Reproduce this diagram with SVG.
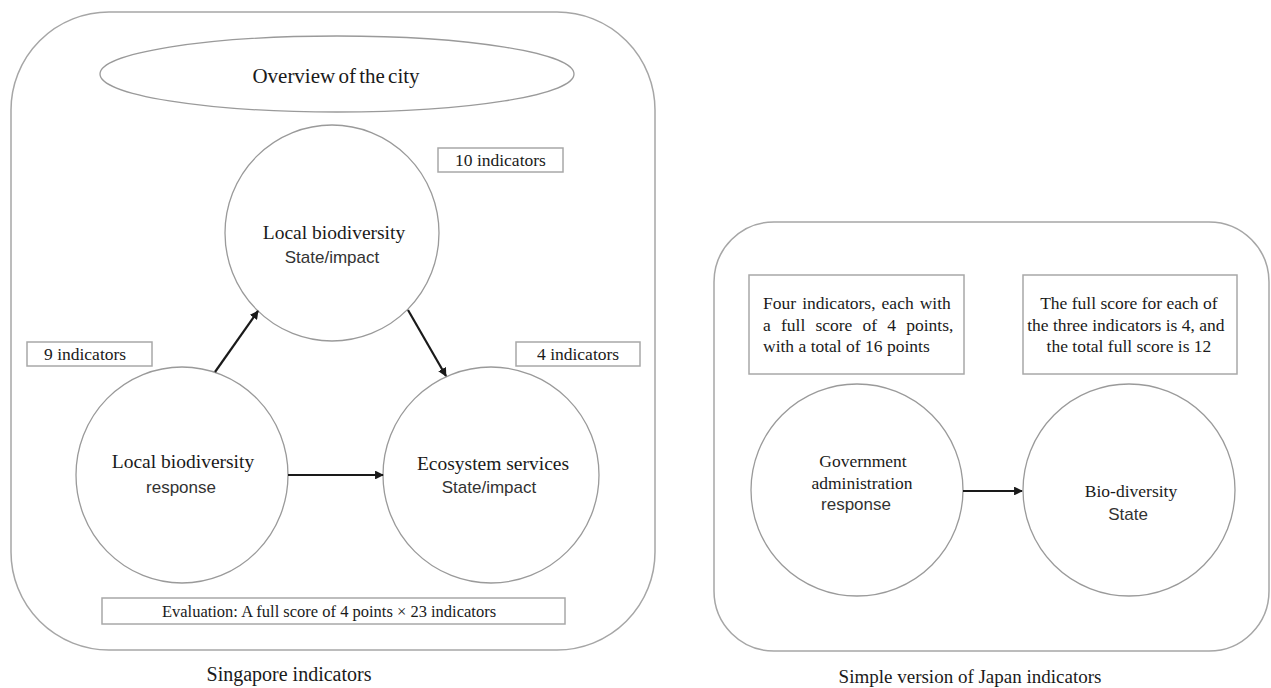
<svg xmlns="http://www.w3.org/2000/svg" width="1271" height="688" viewBox="0 0 1271 688">
<defs>
<style>
.frame{fill:#fff;stroke:#a6a6a6;stroke-width:1.5}
.node{fill:#fff;stroke:#9a9a9a;stroke-width:1.3}
.box{fill:#fff;stroke:#a8a8a8;stroke-width:1.5}
.serif{font-family:"Liberation Serif","Times New Roman",serif;fill:#1a1a1a}
.sans{font-family:"Liberation Sans",Arial,sans-serif;fill:#333}
.c{text-anchor:middle}
.edge{stroke:#1a1a1a;stroke-width:2.2;fill:none;marker-end:url(#ah)}
</style>
<marker id="ah" viewBox="0 0 10 10" refX="9" refY="5" markerWidth="4" markerHeight="4" orient="auto" markerUnits="strokeWidth">
<path d="M0,0 L10,5 L0,10 z" fill="#1a1a1a"/>
</marker>
</defs>
<rect width="1271" height="688" fill="#fff"/>

<g id="singapore-frame">
<rect class="frame" x="11" y="12" width="644" height="638" rx="98" ry="98"/>
</g>
<g id="japan-frame">
<rect class="frame" x="714" y="222" width="555" height="429" rx="60" ry="60"/>
</g>

<g id="overview">
<ellipse class="node" cx="337" cy="74" rx="237" ry="38"/>
<text class="serif c" x="336" y="83" font-size="21" word-spacing="-2">Overview of the city</text>
</g>

<g id="state-impact">
<ellipse class="node" cx="332" cy="233" rx="107" ry="108"/>
<text class="serif c" x="334" y="239" font-size="19.5">Local biodiversity</text>
<text class="sans c" x="332" y="263" font-size="17">State/impact</text>
</g>

<g id="label-10">
<rect class="box" x="438" y="148" width="125" height="24"/>
<text class="serif" x="455" y="166" font-size="17.5" font-family="Liberation Serif, serif">10 indicators</text>
</g>

<g id="label-9">
<rect class="box" x="27" y="342" width="125" height="24"/>
<text class="serif" x="44" y="360" font-size="17.5" font-family="Liberation Serif, serif">9 indicators</text>
</g>

<g id="label-4">
<rect class="box" x="516" y="342" width="124" height="24"/>
<text class="serif" x="537" y="360" font-size="17.5" font-family="Liberation Serif, serif">4 indicators</text>
</g>

<g id="response">
<ellipse class="node" cx="182" cy="475" rx="106" ry="108"/>
<text class="serif c" x="183" y="468" font-size="19.5">Local biodiversity</text>
<text class="sans c" x="181" y="493" font-size="17">response</text>
</g>

<g id="ecosystem">
<ellipse class="node" cx="491" cy="475" rx="108" ry="108"/>
<text class="serif c" x="493" y="470" font-size="19.5">Ecosystem services</text>
<text class="sans c" x="489" y="493" font-size="17">State/impact</text>
</g>

<g id="evaluation">
<rect class="box" x="102" y="598" width="463" height="26"/>
<text class="serif c" x="329" y="617" font-size="16.5">Evaluation: A full score of 4 points × 23 indicators</text>
</g>

<g id="caption-singapore">
<text class="serif c" x="289" y="681" font-size="20">Singapore indicators</text>
</g>

<g id="japan-box-1">
<rect class="box" x="749" y="275" width="215" height="99"/>
<text class="serif" font-size="17.5">
<tspan x="763" y="309" word-spacing="1.7">Four indicators, each with</tspan>
<tspan x="763" y="331" word-spacing="5.8">a full score of 4 points,</tspan>
<tspan x="763" y="352">with a total of 16 points</tspan>
</text>
</g>

<g id="japan-box-2">
<rect class="box" x="1023" y="275" width="214" height="99"/>
<text class="serif c" font-size="17.5">
<tspan x="1131" y="309">The full score for each of</tspan>
<tspan x="1128" y="331">the three indicators is 4, and</tspan>
<tspan x="1129" y="352">the total full score is 12</tspan>
</text>
</g>

<g id="government">
<circle class="node" cx="857" cy="490" r="106"/>
<text class="serif c" x="863" y="467" font-size="17.5">Government</text>
<text class="serif c" x="862" y="489" font-size="17.5">administration</text>
<text class="sans c" x="856" y="510" font-size="17">response</text>
</g>

<g id="biodiversity-state">
<circle class="node" cx="1129" cy="490" r="106"/>
<text class="serif c" x="1131" y="497" font-size="17.5">Bio-diversity</text>
<text class="sans c" x="1128" y="520" font-size="17">State</text>
</g>

<g id="caption-japan">
<text class="serif c" x="970" y="683" font-size="19">Simple version of Japan indicators</text>
</g>

<g id="connectors">
<line class="edge" x1="215" y1="372" x2="258" y2="311"/>
<line class="edge" x1="408" y1="310" x2="446" y2="376"/>
<line class="edge" x1="288" y1="475" x2="383" y2="475"/>
<line class="edge" x1="963" y1="491" x2="1022" y2="491"/>
</g>
</svg>
